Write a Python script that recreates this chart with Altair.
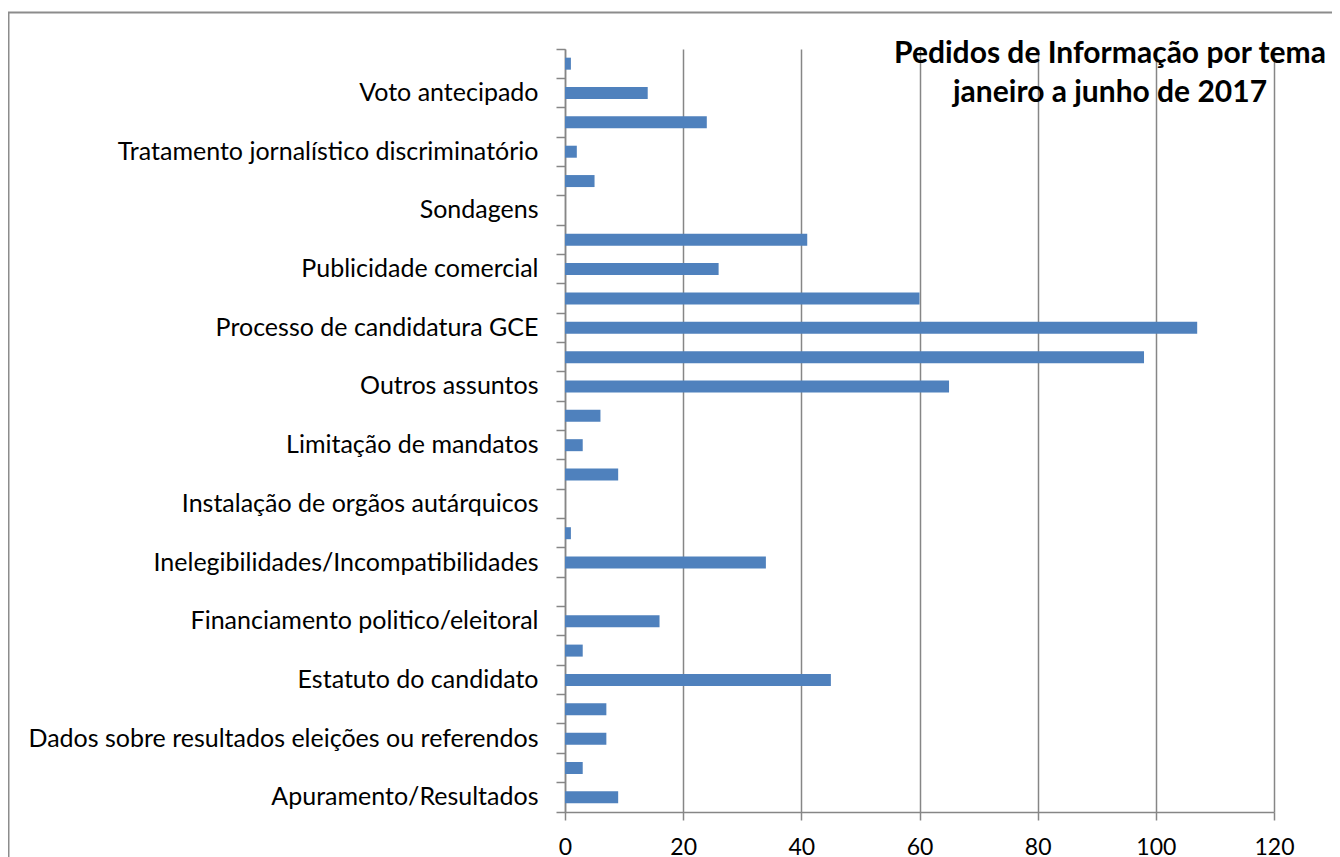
import json
import altair as alt
import pandas as pd

# Categories listed bottom-to-top (Excel order); blank = label not shown in the original
categories = [
    "Apuramento/Resultados", "",
    "Dados sobre resultados eleições ou referendos", "",
    "Estatuto do candidato", "",
    "Financiamento politico/eleitoral", "",
    "Inelegibilidades/Incompatibilidades", "",
    "Instalação de orgãos autárquicos", "",
    "Limitação de mandatos", "",
    "Outros assuntos\u00a0", "",
    "Processo de candidatura GCE", "",
    "Publicidade comercial", "",
    "Sondagens", "",
    "Tratamento jornalístico discriminatório", "",
    "Voto antecipado", "",
]
values = [9, 3, 7, 7, 45, 3, 16, 0, 34, 1, 0, 9, 3, 6, 65, 98, 107, 60, 26, 41, 0, 5, 2, 24, 14, 1]
x_ticks = [0, 20, 40, 60, 80, 100, 120]
title_lines = ["Pedidos de Informação por tema", "janeiro a junho de 2017"]

W, H = 709, 763
N = len(categories)
FONT = "Lato"
GRAY = "#868686"
BAR = "#4F81BD"

df = pd.DataFrame({"idx": list(range(N)), "tema": categories, "pedidos": values})
label_expr = json.dumps(categories, ensure_ascii=False) + "[datum.value]"

one = pd.DataFrame({"k": [0]})

border = alt.Chart(one).mark_rect(
    fill="transparent", stroke="#8c8c8c", strokeWidth=2, clip=False
).encode(
    x=alt.value(-556.5), x2=alt.value(W + 300),
    y=alt.value(-36.5), y2=alt.value(H + 300),
)

bars = alt.Chart(df).mark_bar(color=BAR, size=12).encode(
    x=alt.X(
        "pedidos:Q",
        scale=alt.Scale(domain=[0, 120], nice=False, zero=True),
        axis=alt.Axis(
            values=x_ticks, title=None, grid=True, gridColor=GRAY, gridWidth=1.5,
            domainColor=GRAY, domainWidth=1.5, tickColor=GRAY, tickWidth=1.5,
            tickSize=8, labelPadding=16, labelFontSize=23, labelFont=FONT,
            labelColor="black", labelFlush=False,
        ),
    ),
    y=alt.Y(
        "idx:O", sort="descending",
        scale=alt.Scale(paddingInner=0, paddingOuter=0),
        axis=alt.Axis(
            title=None, labelExpr=label_expr, bandPosition=1, tickExtra=True,
            labelOffset=0, tickSize=9, tickColor=GRAY, tickWidth=1.5,
            domainColor=GRAY, domainWidth=1.5, labelPadding=18, labelFontSize=25,
            labelFont=FONT, labelColor="black", labelLimit=0, labelOverlap=False,
            grid=False,
        ),
    ),
    tooltip=["tema:N", "pedidos:Q"],
)

title = alt.Chart(one).mark_text(
    font=FONT, fontSize=30, fontWeight="bold", align="center",
    baseline="alphabetic", lineHeight=39, color="black",
).encode(
    x=alt.value(545), y=alt.value(14), text=alt.value(title_lines),
)

chart = alt.layer(border, bars, title).properties(
    width=W, height=H,
    padding={"left": 557, "top": 41, "right": 58, "bottom": 46},
    autosize=alt.AutoSizeParams(type="none"),
).configure_view(stroke=None)

chart.save("out.html", embed_options={"renderer": "svg", "actions": False})
